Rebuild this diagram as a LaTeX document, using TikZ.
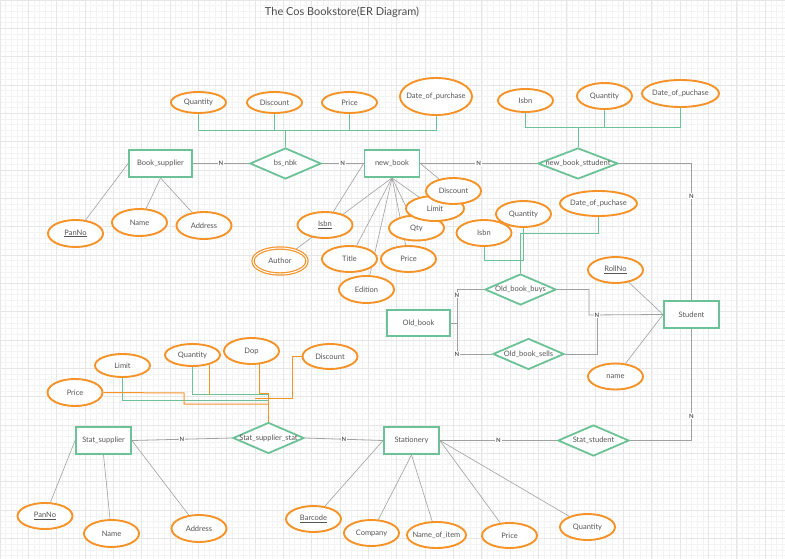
\documentclass[tikz,border=0pt]{standalone}
\usepackage{fontspec}
\setmainfont{Lato}
\usetikzlibrary{shapes.geometric,backgrounds}

\definecolor{erGreen}{RGB}{108,194,150}
\definecolor{erOrange}{RGB}{245,146,40}
\definecolor{erLine}{RGB}{160,160,160}
\definecolor{erText}{RGB}{85,85,85}
\definecolor{gridMinor}{RGB}{243,243,243}
\definecolor{gridMajor}{RGB}{230,230,230}

\newcommand{\erfont}{\fontsize{7.5}{9}\selectfont}

\pgfdeclarelayer{lines}
\pgfsetlayers{background,lines,main}

\begin{document}
\begin{tikzpicture}[
    x=1pt, y=-1pt,
    fixtext/.style={execute at begin node={\hbox to 0pt\bgroup\hss}, execute at end node={\hss\egroup}},
    entity/.style={rectangle, draw=erGreen, line width=1.8pt, fill=white, minimum width=55pt, minimum height=27pt, inner sep=0pt, font=\erfont, text=erText, fixtext},
    rel/.style={diamond, draw=erGreen, line width=1.8pt, fill=white, minimum width=71pt, minimum height=31pt, inner sep=0pt, font=\erfont, text=erText, fixtext},
    attr/.style={ellipse, draw=erOrange, line width=1.9pt, fill=white, minimum width=55pt, minimum height=26pt, inner sep=0pt, font=\erfont, text=erText, fixtext},
    keyattr/.style={attr, double=white, double distance=1pt, line width=1.2pt},
    card/.style={fill=white, inner sep=1pt, font=\fontsize{6}{7}\selectfont\bfseries, text=black!65},
    rline/.style={draw=erLine, line width=0.8pt},
    aline/.style={draw=erLine, line width=0.6pt},
    gline/.style={draw=erGreen, line width=1pt},
    oline/.style={draw=erOrange, line width=1pt},
    title/.style={font=\fontsize{11}{13}\selectfont, text=black!70}
]
\useasboundingbox (0,0) rectangle (785,559);

% grid paper
\begin{pgfonlayer}{background}
    \fill[white] (0,0) rectangle (785,559);
    \draw[gridMinor, line width=0.4pt, step=5.667pt] (0,559) grid (785,0);
    \draw[gridMajor, line width=0.5pt, step=28.33pt] (0,559) grid (785,0);
\end{pgfonlayer}

\node[title] (title) at (342,12) {The Cos Bookstore(ER Diagram)};

% Entities
\node[entity, minimum width=63pt] (booksupplier) at (160.5,163.5) {Book\_supplier};
\node[entity] (newbook) at (392,163.5) {new\_book};
\node[entity, minimum width=63pt, minimum height=26pt] (oldbook) at (418.5,323) {Old\_book};
\node[entity] (student) at (691.5,314.5) {Student};
\node[entity] (statsupplier) at (103.5,440.5) {Stat\_supplier};
\node[entity] (stationery) at (411.5,440.5) {Stationery};

% Relationships
\node[rel] (bsnbk) at (285.5,163.5) {bs\_nbk};
\node[rel, minimum width=80pt] (nbstudent) at (578,163.5) {new\_book\_sttudent};
\node[rel] (oldbuys) at (520.5,289.5) {Old\_book\_buys};
\node[rel] (oldsells) at (528.5,354) {Old\_book\_sells};
\node[rel] (statstat) at (268.5,438) {Stat\_supplier\_stat};
\node[rel] (statstudent) at (593.5,440.5) {Stat\_student};

% Attributes of bs_nbk
\node[attr, minimum height=21pt] (bsqty) at (198.5,102.5) {Quantity};
\node[attr, minimum height=21pt] (bsdisc) at (274.5,102.5) {Discount};
\node[attr, minimum height=21pt] (bsprice) at (349.5,102.5) {Price};
\node[attr, minimum width=72pt, minimum height=37pt] (bsdate) at (436,96.5) {Date\_of\_purchase};

% Attributes of new_book_sttudent
\node[attr, minimum height=23pt] (nsisbn) at (525.5,100.5) {Isbn};
\node[attr] (nsqty) at (604.5,96) {Quantity};
\node[attr, minimum width=77pt, minimum height=27pt] (nsdate) at (680.5,93.5) {Date\_of\_puchase};

% Attributes of Book_supplier
\node[attr, minimum height=27pt] (bspan) at (75.5,233.5) {\underline{PanNo}};
\node[attr, minimum height=27pt] (bsname) at (139.5,222.5) {Name};
\node[attr, minimum height=27pt] (bsaddr) at (204,225.5) {Address};

% Attributes of new_book
\node[attr] (nbisbn) at (325,225) {\underline{Isbn}};
\node[keyattr, minimum width=54pt] (nbauthor) at (280,261) {Author};
\node[attr] (nbtitle) at (349.5,259) {Title};
\node[attr, minimum height=27pt] (nbedition) at (366.5,289.5) {Edition};
\node[attr] (nbprice) at (408.5,259) {Price};
\node[attr, minimum height=25pt] (nbqty) at (416.5,228) {Qty};
\node[attr, minimum width=58pt, minimum height=25pt] (nblimit) at (435,208.5) {Limit};
\node[attr] (nbdisc) at (453.5,191) {Discount};

% Attributes of Old_book_buys
\node[attr] (obqty) at (523.5,214) {Quantity};
\node[attr] (obisbn) at (484,233) {Isbn};
\node[attr, minimum width=77pt, minimum height=25pt] (obdate) at (598.5,203.5) {Date\_of\_puchase};

% Attributes of Student
\node[attr] (stroll) at (615.5,270) {\underline{RollNo}};
\node[attr] (stname) at (615.5,376.5) {name};

% Attributes of Stat_supplier_stat
\node[attr, minimum height=23pt] (sslimit) at (122.5,365.5) {Limit};
\node[attr, minimum height=27pt] (ssprice) at (75,392.5) {Price};
\node[attr, minimum height=22pt] (ssqty) at (192.5,355) {Quantity};
\node[attr] (ssdop) at (251.5,351) {Dop};
\node[attr, minimum height=25pt] (ssdisc) at (330,356.5) {Discount};

% Attributes of Stat_supplier
\node[attr] (sppan) at (45,516) {\underline{PanNo}};
\node[attr, minimum height=27pt] (spname) at (111.5,533.5) {Name};
\node[attr, minimum height=27pt] (spaddr) at (199,528.5) {Address};

% Attributes of Stationery
\node[attr] (stbar) at (313.5,519) {\underline{Barcode}};
\node[attr] (stcomp) at (371.5,533) {Company};
\node[attr, minimum width=59pt] (stitem) at (436.5,535) {Name\_of\_item};
\node[attr, minimum height=25pt] (stprice) at (509.5,535.5) {Price};
\node[attr] (stqty) at (587.5,527) {Quantity};

% junction points
\coordinate (bsbus) at (285.5,131);
\coordinate (nsbus) at (578,128);
\coordinate (obbus) at (520.5,260);
\coordinate (obdbus) at (520.5,233);
\coordinate (objoin) at (457,323);
\coordinate (bujoin) at (589,315);
\coordinate (sejoin) at (597,315);
\coordinate (ssbus) at (268.5,393);
\coordinate (ssqbus) at (268.5,394.5);
\coordinate (sslbus) at (268.5,400);
\coordinate (sspbend) at (184,393);
\coordinate (sspbus) at (268.5,404);
\coordinate (ssdbend) at (292,356.5);
\coordinate (ssdend) at (255,398);

\begin{pgfonlayer}{lines}
% cardinality links
\draw[rline] (booksupplier) -- node[card] (n1) {N} (bsnbk);
\draw[rline] (bsnbk) -- node[card] (n2) {N} (newbook);
\draw[rline] (newbook) -- node[card] (n3) {N} (nbstudent);
\draw[rline] (nbstudent.east) -| node[card, pos=0.62] (n4) {N} (student.north);
\draw[rline] (student.south) |- node[card, pos=0.39] (n5) {N} (statstudent.east);
\draw[rline] (statsupplier.east) -- node[card] (n6) {N} (statstat.west);
\draw[rline] (statstat.east) -- node[card] (n7) {N} (stationery.west);
\draw[rline] (stationery) -- node[card] (n8) {N} (statstudent);
\draw[rline] (oldbook.east) -- (objoin);
\draw[rline] (objoin) |- node[card, pos=0.42] (n9) {N} (oldbuys.west);
\draw[rline] (objoin) |- node[card, pos=0.5] (n10) {N} (oldsells.west);
\draw[rline] (oldbuys.east) -| (bujoin) -- (student.west);
\draw[rline] (oldsells.east) -| node[card, pos=1] (n11) {N} (sejoin);

% entity attributes
\draw[aline] (booksupplier.west) -- (bspan);
\draw[aline] (booksupplier.south) -- (bsname);
\draw[aline] (booksupplier.south) -- (bsaddr);
\draw[aline] (newbook.west) -- (nbisbn);
\draw[aline] (newbook.south) -- (nbauthor);
\draw[aline] (newbook.south) -- (nbtitle);
\draw[aline] (newbook.south) -- (nbedition);
\draw[aline] (newbook.south) -- (nbprice);
\draw[aline] (newbook.south) -- (nbqty);
\draw[aline] (newbook.south) -- (nblimit);
\draw[aline] (newbook.east) -- (nbdisc);
\draw[aline] (stroll) -- (student.west);
\draw[aline] (stname) -- (student.west);
\draw[aline] (statsupplier.west) -- (sppan);
\draw[aline] (statsupplier.south) -- (spname);
\draw[aline] (statsupplier.east) -- (spaddr);
\draw[aline] (stationery.west) -- (stbar);
\draw[aline] (stationery.south) -- (stcomp);
\draw[aline] (stationery.south) -- (stitem);
\draw[aline] (stationery.east) -- (stprice);
\draw[aline] (stationery.east) -- (stqty);

% relationship attributes
\draw[gline] (bsqty.south) |- (bsbus);
\draw[gline] (bsdate.south) |- (bsbus);
\draw[gline] (bsdisc.south) -- (bsdisc.south |- bsbus);
\draw[gline] (bsprice.south) -- (bsprice.south |- bsbus);
\draw[gline] (bsbus) -- (bsnbk.north);
\draw[gline] (nsisbn.south) |- (nsbus);
\draw[gline] (nsqty.south) |- (nsbus);
\draw[gline] (nsdate.south) |- (nsbus);
\draw[gline] (nsbus) -- (nbstudent.north);
\draw[gline] (obisbn.south) |- (obbus);
\draw[gline] (obqty.south) |- (obbus);
\draw[gline] (obdate.south) |- (obdbus);
\draw[gline] (obdbus) -- (oldbuys.north);
\draw[gline] (sslimit.south) |- (sslbus);
\draw[gline] (ssqty.south) |- (ssqbus);
\draw[oline] (ssqty.-30) -- (ssqty.-30 |- ssqbus);
\draw[oline] (ssdop.-60) |- (ssbus);
\draw[oline] (ssprice.east) -- (sspbend) |- (sspbus);
\draw[oline] (ssdisc.west) -- (ssdbend) |- (ssdend);
\draw[oline] (ssbus) -- (statstat.north);
\end{pgfonlayer}

\end{tikzpicture}
\end{document}
